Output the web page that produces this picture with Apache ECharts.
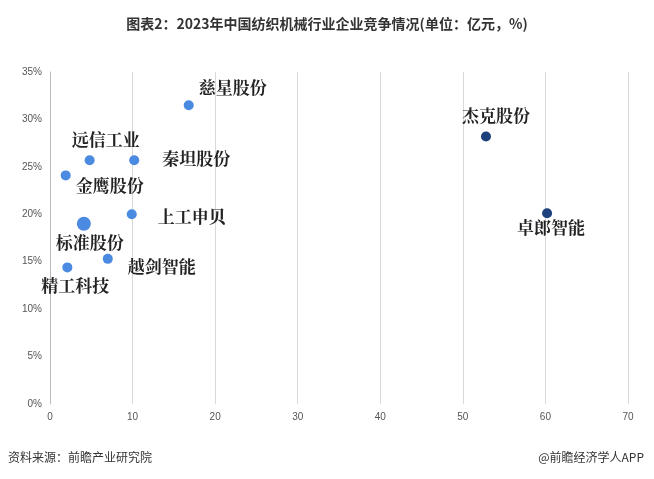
<!DOCTYPE html>
<html><head><meta charset="utf-8">
<script src="https://cdn.jsdelivr.net/npm/echarts@6/dist/echarts.min.js"></script>
<style>html,body{margin:0;padding:0;background:#fff}#c{width:654px;height:479px}</style>
</head><body><div id="c"></div>
<script>
const names = ['慈星股份','杰克股份','卓郎智能','远信工业','秦坦股份','金鹰股份','上工申贝','标准股份','越剑智能','精工科技'];
const revenue = [16.8, 52.8, 60.2, 4.8, 10.2, 1.9, 9.9, 4.1, 7.0, 2.1];
const share = [31.5, 28.2, 20.1, 25.7, 25.7, 24.1, 20.0, 19.0, 15.3, 14.4];
const dark = [false, true, true, false, false, false, false, false, false, false];
const labelPos = [
  {position:'right',offset:[0,-18]},
  {position:'top',offset:[10,-2]},
  {position:'bottom',offset:[4,-4]},
  {position:'top',offset:[16,-2]},
  {position:'right',offset:[18,-2]},
  {position:'right',offset:[0,10]},
  {position:'right',offset:[16,2]},
  {position:'bottom',offset:[6,-2]},
  {position:'right',offset:[10,8]},
  {position:'bottom',offset:[8,0]}
];
const data = names.map((n,i)=>({
  name:n, value:[revenue[i], share[i]],
  symbolSize: n==='标准股份'?14:10,
  itemStyle:{color: dark[i]?'#1d3f7c':'#4a8ae0', opacity:1},
  label:Object.assign({show:true, formatter:n, fontSize:17, fontWeight:'bold', color:'#222', fontFamily:'Noto Serif CJK SC, Noto Sans CJK SC'}, labelPos[i])
}));
const chart = echarts.init(document.getElementById('c'));
chart.setOption({
  animation:false,
  title:{text:'图表2：2023年中国纺织机械行业企业竞争情况(单位：亿元，%)', left:'center', top:12,
    textStyle:{fontSize:14, fontWeight:'bold', color:'#333', fontFamily:'Noto Sans CJK SC'}},
  grid:{left:50, right:26, top:72, bottom:75},
  xAxis:{type:'value', min:0, max:70, interval:10,
    axisLine:{show:false}, axisTick:{show:false},
    splitLine:{show:true, lineStyle:{color:'#d9d9d9'}},
    axisLabel:{color:'#555', fontSize:10}},
  yAxis:{type:'value', min:0, max:35, interval:5,
    axisLine:{show:true, lineStyle:{color:'#bbb'}}, axisTick:{show:false},
    splitLine:{show:false},
    axisLabel:{color:'#555', fontSize:10, formatter:'{value}%'}},
  series:[{type:'scatter', data:data}],
  graphic:[
    {type:'text', left:8, top:451, style:{text:'资料来源：前瞻产业研究院', fontSize:12, fill:'#333', fontFamily:'Noto Sans CJK SC'}},
    {type:'text', right:10, top:451, style:{text:'@前瞻经济学人APP', fontSize:12, fill:'#333', fontFamily:'Noto Sans CJK SC'}}
  ]
});
</script></body></html>
